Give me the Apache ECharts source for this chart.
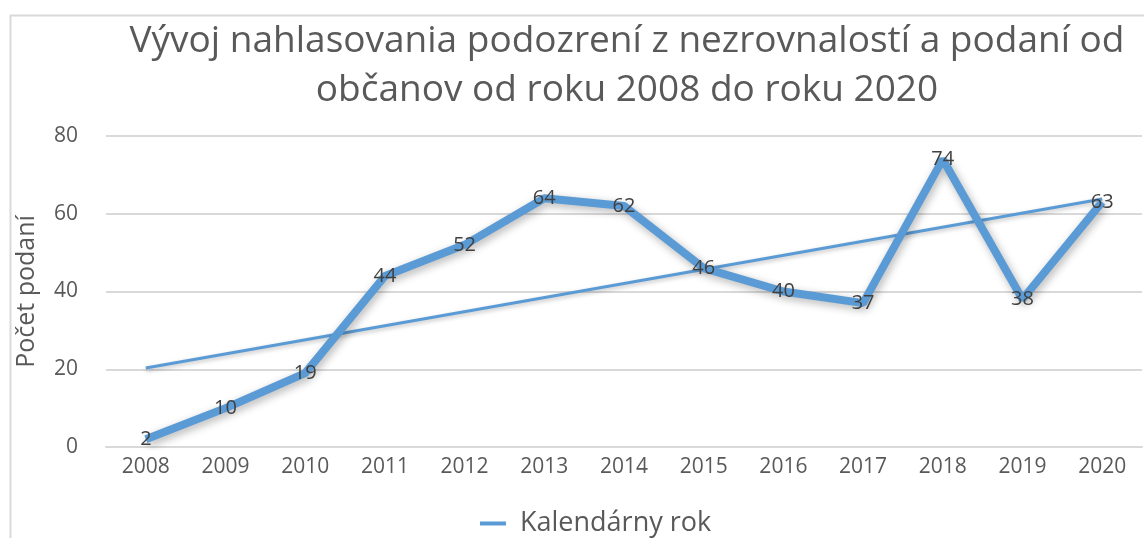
<!DOCTYPE html>
<html>
<head>
<meta charset="UTF-8">
<title>Vývoj nahlasovania</title>
<script src="https://cdn.jsdelivr.net/npm/echarts@6/dist/echarts.min.js"></script>
</head>
<body style="margin:0;background:#fff;">
<div id="chart1" style="width:1144px;height:538px;"></div>
<script type="text/javascript">
var years = ['2008', '2009', '2010', '2011', '2012', '2013', '2014', '2015', '2016', '2017', '2018', '2019', '2020'];
var podania = [2, 10, 19, 44, 52, 64, 62, 46, 40, 37, 74, 38, 63];
// lineárny trend odčítaný z obrázka (len koncové body)
var trend = [20.3, null, null, null, null, null, null, null, null, null, null, null, 63.8];
var yTicks = [0, 20, 40, 60, 80];

var chart1 = echarts.init(document.getElementById('chart1'));
var txt = '#595959';
var blue = '#5b9bd5';

var option = {
    backgroundColor: '#fff',
    animation: false,
    textStyle: { fontFamily: 'Open Sans' },
    title: {
        text: 'Vývoj nahlasovania podozrení z nezrovnalostí a podaní od\nobčanov od roku 2008 do roku 2020',
        left: 622,
        textAlign: 'center',
        top: 12,
        textStyle: {
            color: txt,
            fontSize: 37,
            fontWeight: 'normal',
            lineHeight: 49,
            fontFamily: 'Open Sans'
        }
    },
    graphic: [{
        type: 'rect',
        shape: { x: 10.5, y: 15.5, width: 1200, height: 600 },
        style: { fill: 'none', stroke: '#d9d9d9', lineWidth: 2 },
        silent: true
    }],
    legend: {
        bottom: -4,
        left: 475,
        itemWidth: 26,
        itemHeight: 4,
        itemGap: 16,
        icon: 'rect',
        textStyle: { color: txt, fontSize: 27, padding: [0, 0, 0, 9] },
        data: [{ name: 'Kalendárny rok', itemStyle: { color: blue, opacity: 1 } }]
    },
    grid: {
        left: 106,
        right: 2,
        top: 136,
        bottom: 91,
        outerBoundsMode: 'none',
        containLabel: false
    },
    xAxis: {
        type: 'category',
        data: years,
        boundaryGap: true,
        axisLine: { show: true, lineStyle: { color: '#d9d9d9', width: 2 } },
        axisTick: { show: false },
        axisLabel: { color: txt, fontSize: 21, margin: 10 }
    },
    yAxis: {
        type: 'value',
        min: yTicks[0],
        max: yTicks[yTicks.length - 1],
        interval: 20,
        name: 'Počet podaní',
        nameLocation: 'middle',
        nameGap: 67,
        nameTextStyle: { color: txt, fontSize: 25 },
        axisLine: { show: false },
        axisTick: { show: false },
        axisLabel: { color: txt, fontSize: 21, margin: 28 },
        splitLine: { lineStyle: { color: '#d9d9d9', width: 2 } }
    },
    series: [{
        name: 'Kalendárny rok',
        type: 'line',
        data: podania,
        symbol: 'circle',
        symbolSize: 0.1,
        showSymbol: true,
        lineStyle: {
            color: blue,
            width: 8,
            shadowColor: 'rgba(0,0,0,0.3)',
            shadowBlur: 8,
            shadowOffsetX: 2,
            shadowOffsetY: 3
        },
        itemStyle: { color: blue },
        label: {
            show: true,
            position: 'inside',
            color: '#404040',
            fontSize: 20
        },
        z: 3
    }, {
        name: 'trend',
        type: 'line',
        data: trend,
        connectNulls: true,
        symbol: 'none',
        lineStyle: {
            color: blue,
            width: 3,
            shadowColor: 'rgba(0,0,0,0.25)',
            shadowBlur: 4,
            shadowOffsetY: 2
        },
        z: 2
    }]
};
chart1.setOption(option);
</script>
</body>
</html>
